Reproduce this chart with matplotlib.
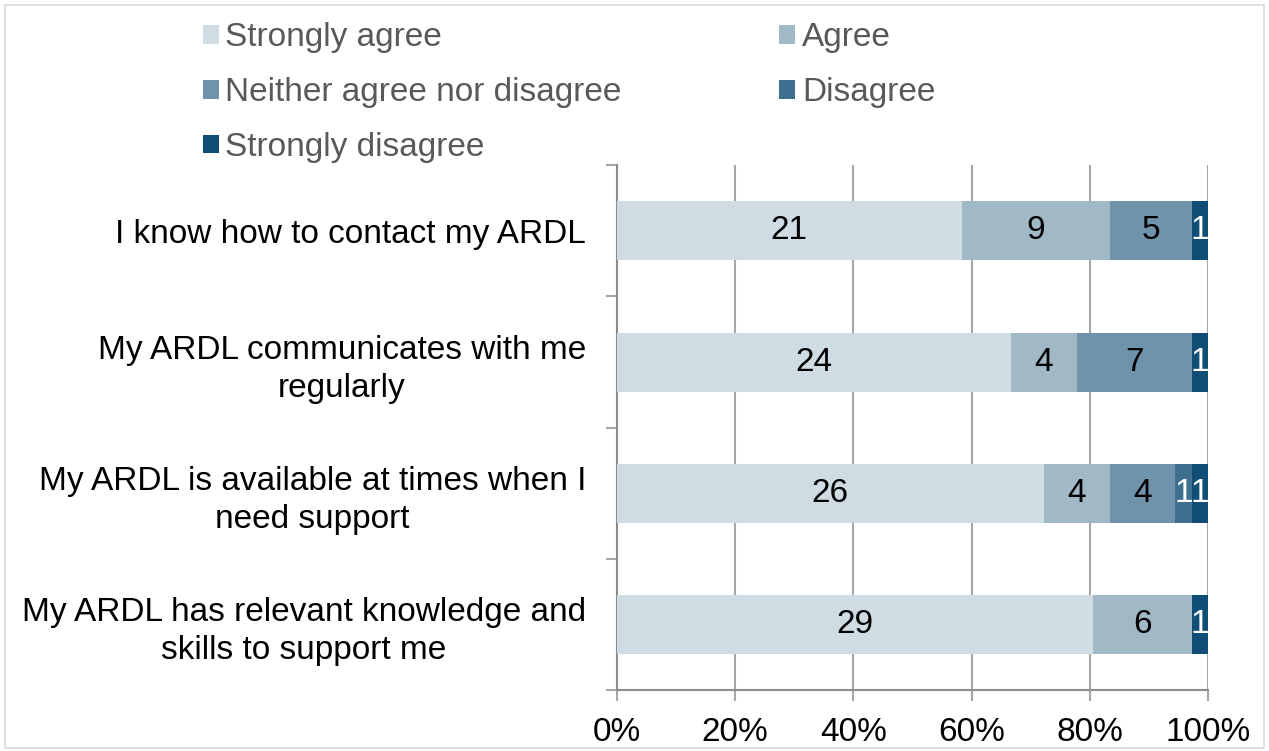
import numpy as np
import matplotlib.pyplot as plt
from matplotlib.patches import Rectangle

plt.rcParams['font.family'] = ['Liberation Sans', 'DejaVu Sans']

questions = ["I know how to contact my ARDL",
             "My ARDL communicates with me\nregularly",
             "My ARDL is available at times when I\nneed support",
             "My ARDL has relevant knowledge and\nskills to support me"]
responses = ["Strongly agree", "Agree", "Neither agree nor disagree",
             "Disagree", "Strongly disagree"]
strongly_agree = [21, 24, 26, 29]
agree = [9, 4, 4, 6]
neither = [5, 7, 4, 0]
disagree = [0, 0, 1, 0]
strongly_disagree = [1, 1, 1, 1]

colors = ['#CFDCE3', '#A1B8C7', '#6F93AB', '#3F6F8F', '#114E75']
text_colors = ['black', 'black', 'black', 'white', 'white']

counts = np.array([strongly_agree, agree, neither, disagree, strongly_disagree], dtype=float)
totals = counts.sum(axis=0)
shares = counts / totals

fig = plt.figure(figsize=(12.69, 7.51), dpi=100)
ax = fig.add_axes([0.486, 0.081, 0.466, 0.699])

y = np.arange(len(questions))
left = np.zeros(len(questions))
handles = []
for i, name in enumerate(responses):
    bars = ax.barh(y, shares[i], left=left, height=0.45, color=colors[i],
                   label=name, zorder=3)
    handles.append(bars)
    for j in range(len(questions)):
        if counts[i, j] > 0:
            ax.text(left[j] + shares[i, j] / 2, y[j], str(int(counts[i, j])),
                    ha='center', va='center', fontsize=24,
                    color=text_colors[i], zorder=4)
    left += shares[i]

ax.set_xlim(0, 1)
ax.set_ylim(3.5, -0.5)
ax.set_xticks(np.arange(0, 1.01, 0.2))
ax.set_xticklabels([f"{int(v*100)}%" for v in np.arange(0, 1.01, 0.2)], fontsize=24)
ax.xaxis.grid(True, color='#A6A6A6', linewidth=1.5, zorder=0)
ax.tick_params(axis='x', length=8, width=1.5, color='#A6A6A6', pad=11)

ax.set_yticks(y)
ax.set_yticklabels(questions, fontsize=24, multialignment='center', linespacing=1.3)
ax.tick_params(axis='y', length=0, pad=22)
ax.set_yticks(np.arange(-0.5, 4, 1), minor=True)
ax.tick_params(axis='y', which='minor', length=8, width=1.5, color='#A6A6A6')

for side in ['top', 'right']:
    ax.spines[side].set_visible(False)
for side in ['left', 'bottom']:
    ax.spines[side].set_color('#8C8C8C')
    ax.spines[side].set_linewidth(1.5)

order = [0, 2, 4, 1, 3]
fig.legend([handles[k] for k in order], [responses[k] for k in order],
           ncol=2, loc='upper left', bbox_to_anchor=(0.136, 1.010),
           frameon=False, fontsize=24, handlelength=0.48, handleheight=0.48,
           handletextpad=0.2, columnspacing=4.73, labelspacing=0.71,
           labelcolor='#595959')

fig.patches.append(Rectangle((0.004, 0.004), 0.992, 0.99, transform=fig.transFigure,
                             fill=False, edgecolor='#D9D9D9', linewidth=1.2))

fig.savefig('out.png', dpi=100)
